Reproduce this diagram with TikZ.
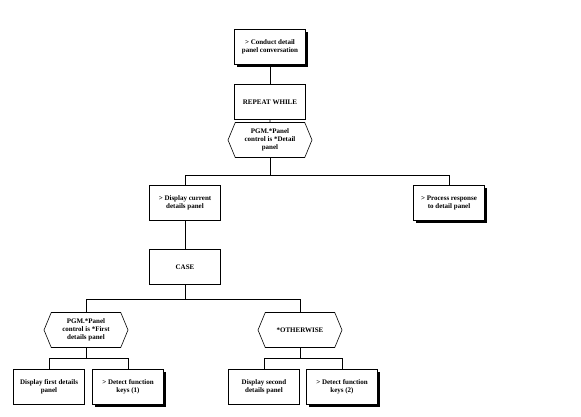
\documentclass[tikz,border=0pt]{standalone}
\usepackage{fontspec}
\setmainfont{Liberation Serif}
\usepackage{tikz}
\usetikzlibrary{shapes}
\usetikzlibrary{shadows}
\tikzstyle{step box}=[rectangle,draw=black,fill=white,line width=0.6pt,align=center,inner sep=1pt,minimum width=71pt,minimum height=35pt,font=\fontsize{7}{8}\selectfont\bfseries]
\tikzstyle{action}=[step box,drop shadow={shadow xshift=2.5pt,shadow yshift=-2.5pt,fill=black,opacity=1}]
\tikzstyle{cond}=[signal,signal to=east and west,signal pointer angle=135,draw=black,fill=white,line width=0.6pt,align=center,inner sep=1pt,minimum width=84pt,minimum height=35pt,font=\fontsize{7}{8}\selectfont\bfseries]
\tikzstyle{link}=[line width=0.6pt]

\begin{document}
\begin{tikzpicture}[x=1pt,y=-1pt]
      \useasboundingbox (0,0) rectangle (581,417);
      \node[action] at (270,47) (Conduct) {> Conduct detail\\panel conversation};
      \node[step box] at (270,102) (Repeat) {REPEAT WHILE};
      \node[cond] at (270,140) (Panel) {PGM.*Panel\\control is *Detail\\panel};
      \node[step box] at (185,203) (Display) {> Display current\\details panel};
      \node[action] at (449,203) (Process) {> Process response\\to detail panel};
      \node[step box] at (185,267) (Case) {CASE};
      \node[cond] at (86,330) (First) {PGM.*Panel\\control is *First\\details panel};
      \node[cond] at (300,330) (Otherwise) {*OTHERWISE};
      \node[step box] at (49,387) (ShowFirst) {Display first details\\panel};
      \node[action] at (128,387) (Keys1) {> Detect function\\keys (1)};
      \node[step box] at (264,387) (ShowSecond) {Display second\\details panel};
      \node[action] at (342,387) (Keys2) {> Detect function\\keys (2)};
      \draw[link] (Conduct) -- (Repeat);
      \draw[link] (Repeat) -- (Panel);
      \draw[link] (Panel.south) -- ++(0,17) -| (Display.north);
      \draw[link] (Panel.south) -- ++(0,17) -| (Process.north);
      \draw[link] (Display) -- (Case);
      \draw[link] (Case.south) -- ++(0,14) -| (First.north);
      \draw[link] (Case.south) -- ++(0,14) -| (Otherwise.north);
      \draw[link] (First.south) -- ++(0,10) -| (ShowFirst.north);
      \draw[link] (First.south) -- ++(0,10) -| (Keys1.north);
      \draw[link] (Otherwise.south) -- ++(0,10) -| (ShowSecond.north);
      \draw[link] (Otherwise.south) -- ++(0,10) -| (Keys2.north);
    \end{tikzpicture}
\end{document}
